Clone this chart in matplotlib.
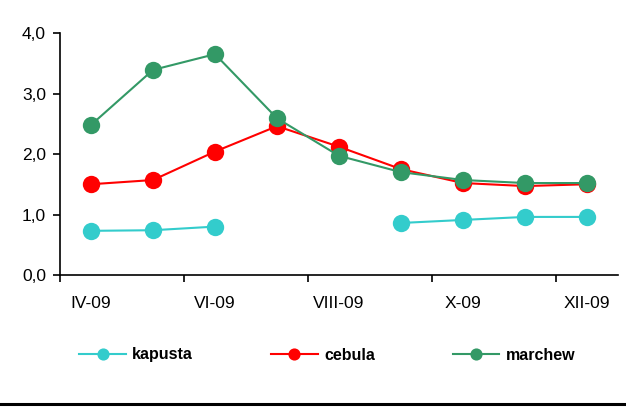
import matplotlib
matplotlib.use("Agg")
import matplotlib.pyplot as plt
from matplotlib.lines import Line2D
import numpy as np

plt.rcParams['font.family'] = ['Liberation Sans', 'DejaVu Sans']

months = ["IV-09", "V-09", "VI-09", "VII-09", "VIII-09", "IX-09", "X-09", "XI-09", "XII-09"]
kapusta = [0.73, 0.74, 0.80, None, None, 0.86, 0.91, 0.96, 0.96]
cebula = [1.50, 1.57, 2.04, 2.46, 2.12, 1.75, 1.52, 1.47, 1.50]
marchew = [2.48, 3.39, 3.65, 2.59, 1.97, 1.70, 1.57, 1.52, 1.52]

series = [
    ("kapusta", kapusta, "#33CCCC"),
    ("cebula", cebula, "#FF0000"),
    ("marchew", marchew, "#339966"),
]

fig = plt.figure(figsize=(6.26, 4.12), dpi=100)
ax = fig.add_axes([60 / 626, 1 - 275 / 412, 558 / 626, 242 / 412])

x = np.arange(len(months))
handles = []
for name, vals, color in series:
    y = np.array([np.nan if v is None else v for v in vals], dtype=float)
    h, = ax.plot(x, y, color=color, lw=1.5, marker="o", markersize=12.5,
                 markeredgewidth=0, label=name)
    handles.append(h)

ax.set_xlim(-0.5, len(months) - 0.5)
ax.set_ylim(0, 4)
ax.set_yticks([0, 1, 2, 3, 4])
ax.set_yticklabels(["0,0", "1,0", "2,0", "3,0", "4,0"], fontsize=12.5)

# ticks sit between categories, labels on every other category
ax.set_xticks(np.arange(-0.5, len(months) - 1, 2))
ax.set_xticklabels([])
ax.set_xticks(x[::2], minor=True)
ax.set_xticklabels(months[::2], minor=True, fontsize=12.5)
ax.tick_params(axis="x", which="major", direction="out", length=5, width=1.2)
ax.tick_params(axis="x", which="minor", length=0, pad=15)
ax.tick_params(axis="y", direction="out", length=5, width=1.2, pad=5)

for s in ["top", "right"]:
    ax.spines[s].set_visible(False)
for s in ["left", "bottom"]:
    ax.spines[s].set_linewidth(1.2)

leg = fig.legend(handles=handles, loc="center", bbox_to_anchor=(0.523, 1 - 355 / 412),
                 ncol=3, frameon=False, markerscale=0.7, handlelength=2.9,
                 columnspacing=4.9, handletextpad=0.4,
                 prop={"weight": "bold", "size": 11.5})

fig.add_artist(Line2D([0, 1], [1 - 404 / 412, 1 - 404 / 412], color="black", lw=2.2,
                      transform=fig.transFigure))

fig.savefig("out.png", dpi=100)
